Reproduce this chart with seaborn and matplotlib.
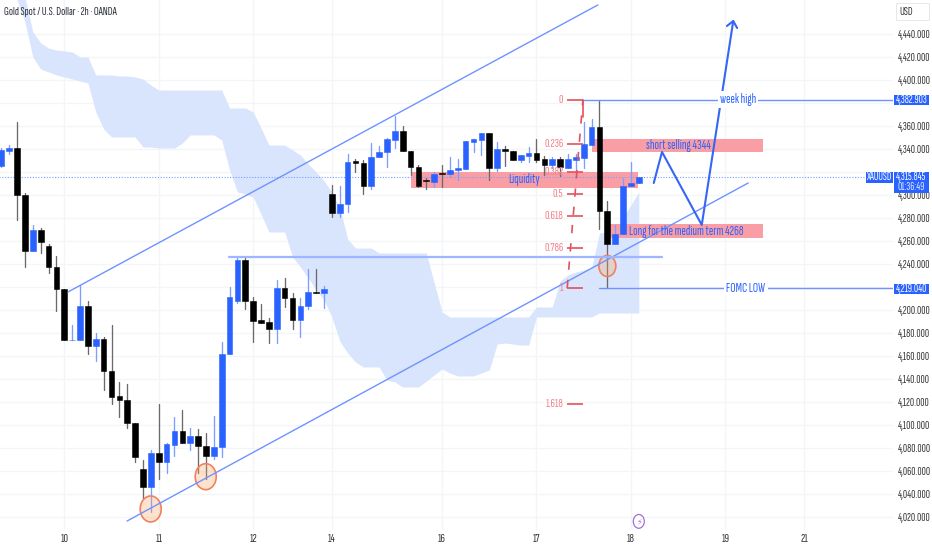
import pandas as pd
import numpy as np
import matplotlib
matplotlib.use("Agg")
import matplotlib.pyplot as plt
from matplotlib.patches import Ellipse, Rectangle
import seaborn as sns

# candles, bar 0 is the first bar of the 10th
first_bar = -8
opens = [4325.2, 4338.2, 4341.1, 4299.7, 4251.2, 4269.5, 4255.8, 4237.3,
         4217.9, 4173.4, 4173.8, 4203.6, 4168.8, 4174.4, 4146.9, 4124.8, 4121.9, 4101.6,
         4061.6, 4046.2, 4075.8, 4067.7, 4082.7, 4094.4, 4084.4, 4090.3, 4081.8, 4073.1,
         4080.4, 4161.6, 4208.0, 4243.1, 4208.0, 4191.2, 4189.2, 4183.6, 4219.0, 4210.6,
         4191.5, 4203.6, 4215.8, 4214.7, 4301.1, 4284.6, 4291.9, 4329.3, 4328.0, 4307.5,
         4333.0, 4337.4, 4348.1, 4355.9, 4338.5, 4324.6, 4312.7, 4311.5, 4318.8, 4318.2,
         4321.7, 4322.6, 4346.3, 4348.1, 4353.6, 4323.2, 4339.7, 4338.0, 4330.7, 4334.1,
         4336.2, 4331.0, 4325.8, 4331.0, 4323.7, 4330.7, 4332.4, 4343.7, 4358.8, 4286.0,
         4257.3, 4266.0, 4307.5, 4310.4]
highs = [4340.8, 4343.4, 4363.5, 4301.7, 4273.8, 4271.2, 4257.3, 4246.9,
         4217.9, 4186.9, 4221.7, 4207.7, 4179.9, 4176.4, 4186.9, 4137.3, 4135.5, 4101.6,
         4069.4, 4078.4, 4118.1, 4084.4, 4106.8, 4112.9, 4097.2, 4096.4, 4093.2, 4107.7,
         4172.1, 4219.6, 4246.3, 4245.1, 4211.2, 4205.1, 4192.9, 4226.0, 4227.7, 4214.9,
         4210.3, 4235.6, 4235.3, 4220.8, 4308.7, 4307.8, 4335.4, 4331.0, 4330.4, 4344.9,
         4342.8, 4349.3, 4368.7, 4360.2, 4338.5, 4326.1, 4314.5, 4320.2, 4325.8, 4332.8,
         4331.0, 4347.2, 4348.4, 4354.1, 4354.1, 4346.3, 4342.6, 4338.0, 4335.0, 4341.4,
         4348.9, 4333.9, 4333.3, 4333.3, 4335.4, 4335.4, 4363.2, 4365.8, 4382.9, 4295.0,
         4273.8, 4314.5, 4328.9, 4315.8]
lows = [4324.3, 4335.6, 4278.2, 4237.3, 4251.2, 4249.5, 4232.1, 4199.0,
        4173.5, 4173.4, 4173.8, 4161.6, 4155.8, 4130.3, 4118.1, 4107.1, 4097.5, 4067.9,
        4036.6, 4024.4, 4052.9, 4057.8, 4072.9, 4084.4, 4078.1, 4058.4, 4052.9, 4070.5,
        4072.3, 4161.6, 4206.3, 4201.0, 4172.1, 4188.8, 4171.2, 4171.2, 4202.8, 4183.6,
        4176.7, 4200.8, 4214.7, 4201.6, 4280.5, 4281.1, 4285.4, 4320.2, 4300.8, 4305.2,
        4333.0, 4324.6, 4340.6, 4338.5, 4317.4, 4306.6, 4305.4, 4306.6, 4306.6, 4315.3,
        4313.0, 4322.6, 4337.4, 4334.8, 4313.0, 4320.8, 4325.2, 4330.1, 4328.9, 4328.4,
        4328.4, 4317.4, 4323.4, 4316.5, 4323.7, 4319.4, 4323.7, 4343.7, 4270.4, 4219.0,
        4257.3, 4266.0, 4307.5, 4310.4]
closes = [4339.1, 4341.1, 4299.7, 4251.2, 4269.5, 4259.1, 4237.3, 4217.9,
          4173.5, 4174.2, 4203.6, 4168.8, 4174.4, 4146.9, 4124.5, 4121.6, 4101.3, 4072.0,
          4046.2, 4075.8, 4067.7, 4083.1, 4094.4, 4084.4, 4090.3, 4081.6, 4073.1, 4080.7,
          4161.6, 4211.0, 4243.1, 4207.7, 4190.6, 4188.8, 4183.6, 4219.0, 4210.6, 4191.5,
          4203.6, 4215.6, 4214.9, 4218.2, 4284.6, 4291.9, 4328.9, 4328.0, 4307.5, 4333.3,
          4337.4, 4348.4, 4355.9, 4338.5, 4324.6, 4307.8, 4311.9, 4318.5, 4318.0, 4322.0,
          4323.2, 4346.7, 4348.4, 4353.6, 4323.2, 4339.7, 4338.0, 4330.1, 4334.5, 4336.2,
          4330.4, 4325.8, 4331.0, 4324.3, 4331.0, 4332.8, 4344.3, 4358.8, 4286.0, 4257.3,
          4266.0, 4307.8, 4310.4, 4315.8]

# ichimoku cloud edges, bars -6 to 73
cloud_first = -6
cloud_upper = [4487, 4472, 4441.8, 4432.2, 4427.8, 4426.1, 4425.2, 4424.4, 4420, 4420,
               4404.4, 4404.4, 4404.4, 4403.5, 4403.5, 4402.6, 4400.9, 4395.6,
               *[4391.3] * 9, *[4375.6] * 3, 4372.2, 4358.2, *[4343.4] * 3, 4339.1, 4334.8,
               4326.9, 4320, 4312.1, 4302.6, 4289.5, 4261.7, *[4253.8] * 3, *[4249.5] * 7,
               4223.4, 4198.2, *[4193.8] * 11, *[4202.5] * 3, 4225.1, 4230.4, 4233, 4234.7,
               4236.4, 4266.9, 4267.8, 4267.8, 4280.8, 4291.3, 4302.6]
cloud_lower = [4469.6, 4450.5, 4420, 4409.6, 4407, 4404.4, 4402.6, 4400.9, 4399.1, 4397.4,
               4372.2, 4357.4, *[4350.4] * 4, 4341.7, 4341.7, *[4340.8] * 3, 4345.2,
               *[4352.2] * 4, 4347.8, 4321.7, 4302.6, 4300.8, 4298.2, 4283.4, *[4267.8] * 3,
               4246, 4237.3, 4227.7, 4217.3, 4208.6, 4193.8, 4172.9, 4162.5, 4154.7,
               *[4150.3] * 3, 4139, 4137.3, *[4132.9] * 3, 4138.1, 4143.4, 4148.6, 4145.1,
               *[4142.5] * 3, 4145.1, 4147.7, 4170.3, 4171.2, 4170.3, 4169.4, 4169.4,
               *[4193.8] * 8, *[4197.3] * 6]

# axis labels, the prices behind the blue tags get no label
day_bars = [0, 12, 24, 34, 48, 60, 72, 84, 94]
day_labels = ["10", "11", "12", "14", "16", "17", "18", "19", "21"]
price_ticks = list(range(4020, 4441, 20))
hidden_ticks = [4220, 4320, 4380]

# levels
last_price = 4315.845
week_high = 4382.903
fomc_low = 4219.040
fib_levels = ["0", "0.236", "0.382", "0.5", "0.618", "0.786", "1", "1.618"]
fib_prices = [4382.9, 4344.2, 4320.3, 4301.0, 4281.6, 4254.1, 4219.0, 4117.7]

# drawings: bar, price
channel_top = ([0.47, 67.8], [4215.6, 4465.3])
channel_bottom = ([7.97, 86.9], [4016.3, 4310.4])
resistance = ([20.9, 75.95], [4246.4, 4246.4])
week_high_line = ([65.9, 106], [week_high, week_high])
fomc_line = ([67.9, 106], [fomc_low, fomc_low])
path_bars = [74.9, 75.95, 81, 85]
path_prices = [4310.4, 4337.4, 4273.9, 4451.3]
arrow_bars = [84.2, 85, 85.5]
arrow_prices = [4447, 4451.3, 4445.2]
fib_trend = ([63.9, 65.9], [4219.0, 4382.9])
zones = [(67, 88.8, 4337.4, 4348.7), (44, 72.9, 4306.3, 4320), (69.3, 88.8, 4262.5, 4274.7)]
circles = [(10.98, 4026.8, 2.67, 22.6), (17.97, 4054.9, 2.67, 22.6), (69, 4238.2, 2.16, 18.3)]

BLUE = "#2962ff"
LINE = "#6f93ff"
RED = "#e2515f"
PINK = "#f99ea5"
W, H = 932, 550

sns.set_theme(style="white")
plt.rcParams["font.family"] = ["Sofia Sans Extra Condensed", "Fira Sans Extra Condensed", "Roboto Condensed",
                               "Liberation Sans", "DejaVu Sans"]

df = pd.DataFrame({"open": opens, "high": highs, "low": lows, "close": closes})
df["bar"] = np.arange(len(df)) + first_bar
df["up"] = df["close"] >= df["open"]

cloud = pd.DataFrame({"upper": cloud_upper, "lower": cloud_lower})
cloud["bar"] = np.arange(len(cloud)) + cloud_first

fig = plt.figure(figsize=(W / 100, H / 100), dpi=100)
ax = fig.add_axes([0, 20 / H, 893 / W, 530 / H])


def line(xy, color=LINE, lw=1.0, z=4, **kw):
    sns.lineplot(x=xy[0], y=xy[1], color=color, linewidth=lw, zorder=z, sort=False,
                 estimator=None, errorbar=None, legend=False, ax=ax, **kw)


def fig_box(x0, y0, x1, y1, face, edge="none"):
    fig.add_artist(Rectangle((x0 / W, 1 - y1 / H), (x1 - x0) / W, (y1 - y0) / H, transform=fig.transFigure,
                             facecolor=face, edgecolor=edge, linewidth=0.7, zorder=5))


def fig_label(x, y, s, color="white", size=8.3, ha="center"):
    fig.text(x / W, 1 - y / H, s, color=color, fontsize=size, ha=ha, va="center", zorder=6)


ax.fill_between(cloud["bar"], cloud["lower"], cloud["upper"], color="#d9e4fd", linewidth=0, zorder=1)

for x0, x1, y0, y1 in zones:
    ax.add_patch(Rectangle((x0, y0), x1 - x0, y1 - y0, facecolor=PINK, edgecolor="none", zorder=1.5))

# wicks then bodies
wicks = df.melt(id_vars=["bar", "up"], value_vars=["low", "high"], value_name="price")
for up, colour in [(True, "#7c9eff"), (False, "#6a6a6a")]:
    part = wicks[wicks["up"] == up]
    sns.lineplot(data=part, x="bar", y="price", units="bar", estimator=None, color=colour,
                 linewidth=0.95, zorder=2, legend=False, ax=ax)
bottoms = df[["open", "close"]].min(axis=1)
tops = df[["open", "close"]].max(axis=1)
colours = [BLUE if u else "black" for u in df["up"]]
ax.bar(df["bar"], tops - bottoms, bottom=bottoms, width=0.72, color=colours, edgecolor=colours,
       linewidth=0.4, zorder=3)

# drawings
ax.hlines(last_price, -9, 101.9, color="#7c9eff", linewidth=0.8, linestyles=(0, (1, 1.5)), zorder=2.5)
line(channel_top)
line(channel_bottom)
line(resistance, color="#9db6ff", lw=1.6)
line(week_high_line)
line(fomc_line)
line((path_bars, path_prices), color="#3566f5", lw=1.5, z=5)
line((arrow_bars, arrow_prices), color="#3566f5", lw=1.5, z=5)
line(fib_trend, color=RED, lw=1.2, linestyle=(0, (5, 6)))
for lab, price in zip(fib_levels, fib_prices):
    ax.hlines(price, 63.9, 65.9, color=RED, linewidth=1.2, zorder=4)
    ax.text(63.4, price, lab, color="#f5808c", fontsize=9, ha="right", va="center", zorder=4)
line(([65.9, 65.9], [4382.9, 4368]), color=RED, lw=1.2)

for x, y, w, h in circles:
    ax.add_patch(Ellipse((x, y), w, h, facecolor="#f9a35e", edgecolor="none", alpha=0.3, zorder=3.5))
    ax.add_patch(Ellipse((x, y), w, h, facecolor="none", edgecolor="#f2805f", linewidth=1.2, zorder=3.6))

ax.text(78, 4342.6, "short selling 4344", color=BLUE, fontsize=9.6, ha="center", va="center", zorder=6)
ax.text(58.4, 4313, "Liquidity", color=BLUE, fontsize=9.6, ha="center", va="center", zorder=6)
ax.text(79, 4267.8, "Long for the medium term 4268", color=BLUE, fontsize=9.6, ha="center", va="center", zorder=6)
ax.text(85.6, week_high, "week high", color=BLUE, fontsize=9.5, ha="center", va="center", zorder=6,
        bbox=dict(facecolor="white", edgecolor="none", pad=1.5))
ax.text(86.6, fomc_low, "FOMC LOW", color=BLUE, fontsize=9.5, ha="center", va="center", zorder=6,
        bbox=dict(facecolor="white", edgecolor="none", pad=1.5))

# lightning marker
ax.add_patch(Ellipse((73, 4016), 1.4, 12, facecolor="white", edgecolor="#a66fd8", linewidth=0.9, zorder=5))
ax.text(73, 4016, "\u26a1", color="#a66fd8", fontsize=6, ha="center", va="center", zorder=6, family="DejaVu Sans")

ax.set_xlim(-8.17, 105.3)
ax.set_ylim(4008.5, 4469.6)
ax.set_xticks(day_bars)
ax.set_xticklabels(day_labels)
ax.set_yticks(price_ticks)
ax.set_yticklabels(["" if p in hidden_ticks else f"{p:,.3f}" for p in price_ticks])
ax.yaxis.tick_right()
ax.tick_params(axis="x", length=0, pad=3, labelsize=9, labelcolor="#333333")
ax.tick_params(axis="y", length=0, pad=3.5, labelsize=8.3, labelcolor="#333333")
ax.grid(True, color="#f4f5f7", linewidth=1)
ax.set_axisbelow(True)
ax.set_xlabel("")
ax.set_ylabel("")
sns.despine(ax=ax, left=True, bottom=True, right=True, top=True)

# text on the price scale
fig_label(4, 12, "Gold Spot / U.S. Dollar \u00b7 2h \u00b7 OANDA", color="#2a2e39", size=8.7, ha="left")
fig_box(896, 3, 929, 20, "white", "#e6e8ee")
fig_label(906, 12, "USD", color="#333333", size=8.5)
fig_box(894, 95, 929, 105, BLUE)
fig_label(911.5, 100, f"{week_high:,.3f}")
fig_box(894, 283.5, 929, 293.5, BLUE)
fig_label(911.5, 288.5, f"{fomc_low:,.3f}")
fig_box(866, 172, 892.5, 183, BLUE)
fig_label(879, 177.5, "XAUUSD")
fig_box(894, 172, 929, 193, BLUE)
fig_label(911.5, 177.5, f"{last_price:,.3f}")
fig_label(911.5, 187, "01:36:49", color="#dfe7ff")

plt.savefig("out.png", format="png", dpi=100)
